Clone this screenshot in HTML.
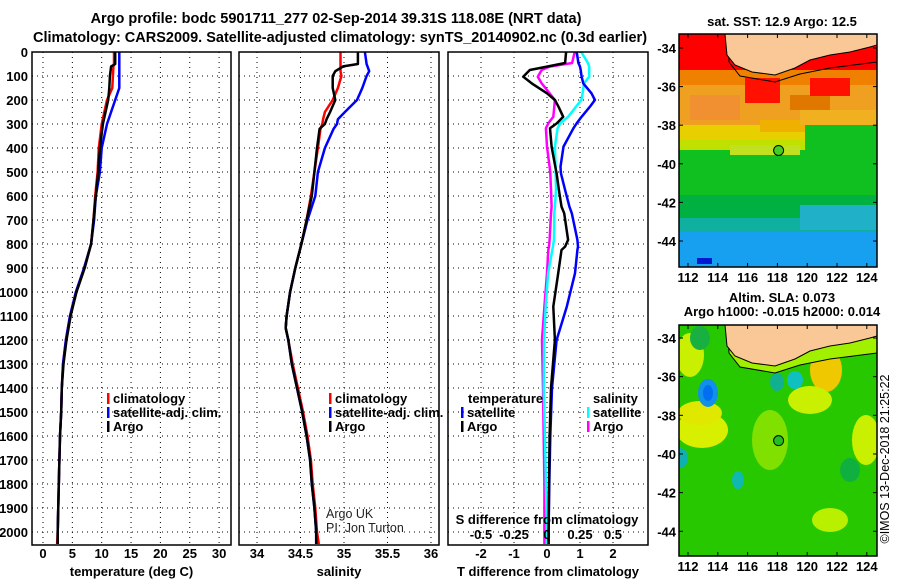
<!DOCTYPE html>
<html><head><meta charset="utf-8">
<style>
body{margin:0;background:#fff;}
svg{display:block;font-family:"Liberation Sans",sans-serif;}
.b{font-weight:bold;font-size:13px;}
.t{font-weight:bold;font-size:14.5px;}
</style></head>
<body>
<svg id="c" width="900" height="580" viewBox="0 0 900 580" xmlns="http://www.w3.org/2000/svg">
<text class="t" x="336" y="23" text-anchor="middle" font-size="15.3">Argo profile: bodc 5901711_277 02-Sep-2014 39.31S 118.08E (NRT data)</text>
<text class="t" x="340" y="42" text-anchor="middle">Climatology: CARS2009. Satellite-adjusted climatology: synTS_20140902.nc (0.3d earlier)</text>
<g id="g"></g>
<text x="889" y="459" font-size="12.5" text-anchor="middle" transform="rotate(-90 889 459)">©IMOS 13-Dec-2018 21:25:22</text>
</svg>
<script>
// ---- data ----
const depthT = [0,50,60,100,150,200,300,400,500,600,700,800,900,1000,1100,1200,1300,1400,1500,1600,1800,2000,2050];
const tempClim = [12.1,12.1,12.0,11.9,11.8,10.9,10.0,9.5,9.3,8.9,8.6,8.2,7.0,5.6,4.6,3.9,3.4,3.2,3.1,2.9,2.7,2.5,2.4];
const tempSat  = [13.0,13.0,13.0,13.0,13.0,12.3,10.9,10.0,9.7,9.0,8.7,8.2,7.0,5.6,4.6,3.9,3.4,3.2,3.1,2.9,2.7,2.5,2.5];
const tempArgo = [12.3,12.3,11.6,11.4,11.3,11.1,10.2,9.7,9.4,9.0,8.6,8.2,7.1,5.7,4.7,4.0,3.5,3.2,3.1,2.9,2.7,2.5,2.5];
const depthS = [0,50,60,80,100,150,200,250,280,300,320,400,500,600,700,800,900,1000,1100,1150,1200,1300,1400,1500,1600,1700,1800,1900,2000,2050];
const salClim = [34.96,34.96,34.96,34.96,34.97,34.93,34.87,34.78,34.76,34.75,34.73,34.70,34.66,34.62,34.57,34.51,34.44,34.38,34.34,34.33,34.36,34.41,34.47,34.53,34.58,34.62,34.64,34.67,34.69,34.71];
const salSat  = [35.24,35.26,35.27,35.29,35.26,35.21,35.15,35.01,34.93,34.92,34.88,34.78,34.70,34.67,34.58,34.51,34.44,34.38,34.34,34.33,34.36,34.40,34.46,34.52,34.57,34.61,34.63,34.66,34.68,34.68];
const salArgo = [35.16,35.16,34.99,34.90,34.87,34.87,34.90,34.84,34.80,34.78,34.72,34.69,34.66,34.63,34.57,34.51,34.44,34.38,34.34,34.33,34.36,34.40,34.46,34.52,34.57,34.61,34.63,34.66,34.68,34.68];
const depthD = [0,46,61,75,103,131,172,200,228,270,297,318,394,478,505,575,644,672,783,811,825,922,1061,1200,1400,1600,1800,2000,2050];
const dTArgo = [0.58,0.55,0.0,-0.52,-0.72,-0.46,0.0,0.24,0.35,0.49,0.30,0.09,0.14,0.25,0.29,0.36,0.44,0.52,0.64,0.55,0.44,0.34,0.19,0.24,0.12,0.08,0.06,0.05,0.05];
const dTSat  = [0.9,0.95,1.0,1.02,1.05,1.1,1.35,1.45,1.3,1.05,0.9,0.8,0.5,0.41,0.42,0.55,0.68,0.75,0.92,0.94,0.92,0.85,0.6,0.29,0.15,0.1,0.07,0.05,0.05];
const dSSat  = [0.26,0.31,0.32,0.32,0.32,0.28,0.27,0.26,0.22,0.16,0.10,0.08,0.06,0.065,0.066,0.068,0.06,0.055,0.052,0.045,0.04,0.008,-0.01,-0.022,-0.025,-0.015,-0.008,0.0,0.0];
const dSArgo = [0.21,0.19,0.02,-0.04,-0.07,-0.04,0.02,0.06,0.055,0.048,0.01,-0.008,0.0,0.02,0.025,0.03,0.035,0.03,0.02,0.015,0.01,0.0,-0.02,-0.038,-0.03,-0.025,-0.02,-0.02,-0.02];
const depthTicks = [0,100,200,300,400,500,600,700,800,900,1000,1100,1200,1300,1400,1500,1600,1700,1800,1900,2000];
const tTicks = [0,5,10,15,20,25,30];
const sTicks = [34,34.5,35,35.5,36];
const dTTicks = [-2,-1,0,1,2];
const dSTicks = [-0.5,-0.25,0,0.25,0.5];
const dSTickLabels = ['-0.5','-0.25','0','0.25','0.5'];
const latTicks = [-34,-36,-38,-40,-42,-44];
const lonTicks = [112,114,116,118,120,122,124];
const argoLon = 118.08, argoLat = -39.31;

// ---- helpers ----
const NS='http://www.w3.org/2000/svg';
const G=document.getElementById('g');
function mk(tag,attrs,parent){const e=document.createElementNS(NS,tag);for(const k in attrs)e.setAttribute(k,attrs[k]);(parent||G).appendChild(e);return e;}
const yD = d => 52 + d*0.24;
const TOP=52, BOT=545;

function panel(x0,x1,xf,ticks,labels,name,title){
  const g=mk('g',{});
  
  
  depthTicks.forEach(d=>{ if(d>0) mk('line',{x1:x0,x2:x1,y1:yD(d),y2:yD(d),stroke:'#000','stroke-width':1,'stroke-dasharray':'1 4'},g);});
  ticks.forEach(v=>{const x=xf(v);mk('line',{x1:x,x2:x,y1:TOP,y2:BOT,stroke:'#000','stroke-width':1,'stroke-dasharray':'1 4'},g);});
  ticks.forEach((v,i)=>{const t=mk('text',{x:xf(v),y:558,'text-anchor':'middle',class:'b'},g);t.textContent=labels?labels[i]:String(v);
    
    });
  if(title){const t=mk('text',{x:(x0+x1)/2,y:576,'text-anchor':'middle',class:'b'},g);t.textContent=title;
    
    }
  return g;
}
function frame(x0,x1,g){mk('rect',{x:x0,y:TOP,width:x1-x0,height:BOT-TOP,fill:'none',stroke:'#000','stroke-width':1.5},g);}
function line(xs,ds,xf,col,w,g,name){
  const pts=xs.map((v,i)=>xf(v).toFixed(1)+','+yD(ds[i]).toFixed(1)).join(' ');
  const p=mk('polyline',{points:pts,fill:'none',stroke:col,'stroke-width':w,'stroke-linejoin':'round'},g);
  
  
}
function legend(items,x,y,g,name){
  items.forEach((it,i)=>{
    mk('rect',{x:x,y:y+i*14-10,width:2.5,height:11,fill:it[1]},g);
    const t=mk('text',{x:x+6,y:y+i*14,class:'b'},g);t.textContent=it[0];
    
    
  });
}

// depth labels
depthTicks.forEach(d=>{const t=mk('text',{x:28,y:yD(d)+5,'text-anchor':'end',class:'b'});t.textContent=d;
  
  });

// panel 1 temperature
const xT=v=>43+v*5.87;
const g1=panel(32,231,xT,tTicks,null,'temperature','temperature (deg C)');
line(tempClim,depthT,xT,'#f00',2.5,g1,'temperature-climatology-line');
line(tempSat,depthT,xT,'#00f',2.5,g1,'temperature-satellite-line');
line(tempArgo,depthT,xT,'#000',2.5,g1,'temperature-argo-line');
frame(32,231,g1);
legend([['climatology','#f00'],['satellite-adj. clim.','#00f'],['Argo','#000']],107,403,g1,'temperature-legend');

// panel 2 salinity
const xS=v=>257+(v-34)*87;
const g2=panel(239,439,xS,sTicks,null,'salinity','salinity');
line(salClim,depthS,xS,'#f00',2.5,g2,'salinity-climatology-line');
line(salSat,depthS,xS,'#00f',2.5,g2,'salinity-satellite-line');
line(salArgo,depthS,xS,'#000',2.5,g2,'salinity-argo-line');
frame(239,439,g2);
legend([['climatology','#f00'],['satellite-adj. clim.','#00f'],['Argo','#000']],329,403,g2,'salinity-legend');
[['Argo UK',518],['PI: Jon Turton',532]].forEach(a=>{const t=mk('text',{x:326,y:a[1],'font-size':12.5,fill:'#222'},g2);t.textContent=a[0];
  
  });

// panel 3 differences
const xDT=v=>547+v*33;
const xDS=v=>547+v*132;
const g3=panel(448,648,xDT,dTTicks,null,'difference','T difference from climatology');
line(dSArgo,depthD,xDS,'#f0f',2.5,g3,'salinity-argo-diff-line');
line(dSSat,depthD,xDS,'#0ff',2.5,g3,'salinity-satellite-diff-line');
line(dTSat,depthD,xDT,'#00f',2.5,g3,'temperature-satellite-diff-line');
line(dTArgo,depthD,xDT,'#000',2.5,g3,'temperature-argo-diff-line');
frame(448,648,g3);
{const t=mk('text',{x:468,y:403,class:'b'},g3);t.textContent='temperature';
 
 
 const t2=mk('text',{x:593,y:403,class:'b'},g3);t2.textContent='salinity';
 
 }
legend([['satellite','#00f'],['Argo','#000']],461,417,g3,'diff-temperature-legend');
legend([['satellite','#0ff'],['Argo','#f0f']],587,417,g3,'diff-salinity-legend');
{const t=mk('text',{x:547,y:524,'text-anchor':'middle',class:'b'},g3);t.textContent='S difference from climatology';
 
 }
dSTicks.forEach((v,i)=>{const t=mk('text',{x:xDS(v),y:539,'text-anchor':'middle',class:'b'},g3);t.textContent=dSTickLabels[i];
  
  });

// ---- maps ----
function map(y0,y1,latY,name,title1,title2,ty,kind){
  const g=mk('g',{});
  
  
  const X0=679,X1=877;
  const lx=lon=>688+(lon-112)*14.9;
  const cid='clip'+name;
  const cp=mk('clipPath',{id:cid},g);mk('rect',{x:X0,y:y0,width:X1-X0,height:y1-y0},cp);
  const inner=mk('g',{'clip-path':'url(#'+cid+')'},g);
  if(kind==='sst'){
    const bands=[[34,70,'#ff0000'],[70,85,'#f08000'],[85,125,'#f0a020'],[125,140,'#e8d000'],[140,150,'#c0e000'],[150,195,'#10c020'],[195,218,'#00b040'],[218,232,'#10b0a0'],[232,270,'#18a0f0']];
    bands.forEach(b=>mk('rect',{x:X0,y:b[0],width:X1-X0,height:b[1]-b[0],fill:b[2]},inner));
    mk('rect',{x:690,y:95,width:50,height:25,fill:'#f09030'},inner);
    mk('rect',{x:790,y:95,width:40,height:15,fill:'#e07800'},inner);
    mk('rect',{x:760,y:120,width:60,height:12,fill:'#f0b000'},inner);
    mk('rect',{x:805,y:125,width:72,height:25,fill:'#10c020'},inner);
    mk('rect',{x:800,y:110,width:77,height:15,fill:'#f0b020'},inner);
    mk('rect',{x:745,y:78,width:35,height:25,fill:'#ff1000'},inner);
    mk('rect',{x:810,y:78,width:40,height:18,fill:'#ff1000'},inner);
    mk('rect',{x:730,y:145,width:70,height:10,fill:'#c0e020'},inner);
    mk('rect',{x:800,y:205,width:77,height:25,fill:'#20b0c8'},inner);
    mk('rect',{x:697,y:258,width:15,height:6,fill:'#0018d0'},inner);
  } else {
    mk('rect',{x:X0,y:y0,width:X1-X0,height:y1-y0,fill:'#28c800'},inner);
    const blobs=[[690,355,14,22,'#c8f000'],[702,430,26,18,'#d8f000'],[700,413,22,12,'#e0e800'],[826,370,16,22,'#f0c800'],[810,400,22,14,'#c8f000'],[866,440,14,25,'#c8f000'],[830,520,18,12,'#b8f000'],[770,440,18,30,'#80e000'],[812,345,30,8,'#a0f000'],
      [708,393,10,14,'#1090e8'],[708,393,5,8,'#0070f0'],[795,380,8,9,'#10c0c0'],[777,382,7,9,'#10b090'],[680,458,8,10,'#10b0b0'],[738,480,6,9,'#10b8b0'],[700,338,10,12,'#18b040'],[850,470,10,12,'#10b040']];
    blobs.forEach(b=>mk('ellipse',{cx:b[0],cy:b[1],rx:b[2],ry:b[3],fill:b[4]},inner));
  }
  const off=y0-34;
  const P=(x,y)=>x+','+(y+off);
  if(kind==='sla') mk('path',{d:'M728,'+y0+' L729,'+(62+off)+' L740,'+(76+off)+' L775,'+(82+off)+' L800,'+(74+off)+' L830,'+(68+off)+' L877,'+(62+off)+' L877,'+y0+' Z',fill:'#a0f000'},inner);
  mk('path',{d:'M728,'+y0+' L729,'+(62+off)+' L740,'+(76+off)+' L775,'+(82+off)+' L800,'+(74+off)+' L830,'+(68+off)+' L877,'+(62+off),fill:'none',stroke:'#000','stroke-width':1},inner);
  const land='M725,'+y0+' L'+P(727,55)+' L'+P(735,65)+' L'+P(752,72)+' L'+P(775,75)+' L'+P(795,68)+' L'+P(810,60)+' L'+P(830,55)+' L'+P(850,52)+' L'+P(870,47)+' L'+P(877,45)+' L877,'+y0+' Z';
  const lp=mk('path',{d:land,fill:'#f9c896',stroke:'#000','stroke-width':1},inner);
  
  
  const ay=latY(argoLat);
  const c=mk('circle',{cx:lx(argoLon),cy:ay,r:5,fill:kind==='sst'?'#40d020':'#20c020',stroke:'#000','stroke-width':1},g);
  
  
  mk('rect',{x:X0,y:y0,width:X1-X0,height:y1-y0,fill:'none',stroke:'#000','stroke-width':1.5},g);
  latTicks.forEach(l=>{const y=latY(l);mk('line',{x1:X0,x2:X0+4,y1:y,y2:y,stroke:'#000'},g);mk('line',{x1:X1-4,x2:X1,y1:y,y2:y,stroke:'#000'},g);
    const t=mk('text',{x:676,y:y+5,'text-anchor':'end',class:'b'},g);t.textContent=l;
    
    });
  lonTicks.forEach(l=>{const x=lx(l);mk('line',{x1:x,x2:x,y1:y0,y2:y0+4,stroke:'#000'},g);mk('line',{x1:x,x2:x,y1:y1-4,y2:y1,stroke:'#000'},g);
    const t=mk('text',{x:x,y:y1+15,'text-anchor':'middle',class:'b'},g);t.textContent=l;
    
    });
  const t1=mk('text',{x:782,y:ty,'text-anchor':'middle',class:'b'},g);t1.textContent=title1;
  
  
  if(title2){const t2=mk('text',{x:782,y:ty+14,'text-anchor':'middle',class:'b'},g);t2.textContent=title2;
    
    }
}
map(34,267,l=>48+(-34-l)*19.3,'sst-map','sat. SST: 12.9 Argo: 12.5',null,26,'sst');
map(325,556,l=>338+(-34-l)*19.33,'sla-map','Altim. SLA: 0.073','Argo h1000: -0.015 h2000: 0.014',302,'sla');
</script>
</body></html>
